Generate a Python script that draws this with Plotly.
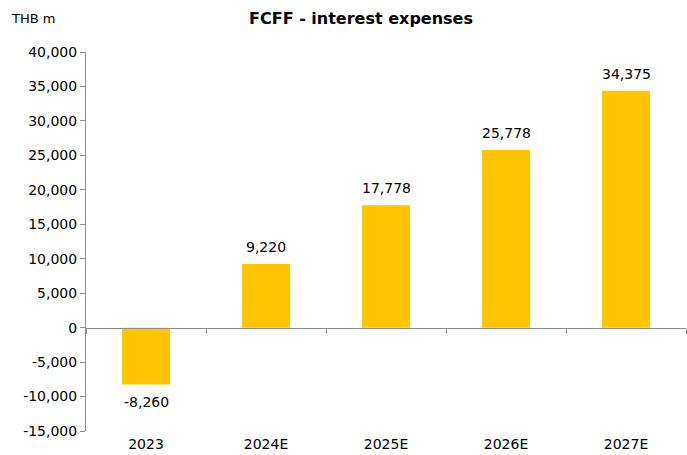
import plotly.graph_objects as go

categories = ["2023", "2024E", "2025E", "2026E", "2027E"]
values = [-8260, 9220, 17778, 25778, 34375]
y_ticks = [-15000, -10000, -5000, 0, 5000, 10000, 15000, 20000, 25000, 30000, 35000, 40000]

FONT = "DejaVu Sans"
BAR = "#FFC600"
AXIS = "#8C8C8C"
Y_MIN, Y_MAX = -15000, 40000

fig = go.Figure()
fig.add_trace(go.Bar(x=categories, y=values, marker=dict(color=BAR, line=dict(width=0)),
                     hoverinfo="skip"))
fig.add_trace(go.Bar(x=categories, y=[None] * len(categories), xaxis="x2", showlegend=False,
                     hoverinfo="skip"))

for i, v in enumerate(values):
    fig.add_annotation(x=i, y=v, text=f"{v:,}", showarrow=False,
                       yanchor="bottom" if v >= 0 else "top",
                       yshift=7 if v >= 0 else -7,
                       font=dict(family=FONT, size=14, color="#000"))

fig.add_annotation(xref="paper", yref="paper", x=-0.128, y=1.0, yshift=34,
                   text="THB m", showarrow=False, xanchor="left", yanchor="middle",
                   font=dict(family=FONT, size=13, color="#000"))

zero_pos = (0 - Y_MIN) / (Y_MAX - Y_MIN)
x_range = [-0.5, len(categories) - 0.5]

fig.update_layout(
    width=687, height=455,
    margin=dict(l=86, r=1, t=52, b=24),
    paper_bgcolor="white", plot_bgcolor="white",
    showlegend=False, bargap=0.6, barmode="overlay",
    title=dict(text="<b>FCFF - interest expenses</b>", x=361 / 687, xanchor="center",
               y=1 - 18 / 455, yanchor="middle",
               font=dict(family=FONT, size=16, color="#000")),
    font=dict(family=FONT, size=14, color="#000"),
    xaxis=dict(type="category", categoryorder="array", categoryarray=categories,
               range=x_range, showline=False, ticks="", showgrid=False, zeroline=False,
               ticklabelstandoff=3,
               tickfont=dict(family=FONT, size=14, color="#000")),
    xaxis2=dict(type="category", categoryorder="array", categoryarray=categories,
                range=x_range, overlaying="x", anchor="free", position=zero_pos, side="bottom",
                showline=True, linecolor=AXIS, linewidth=1,
                ticks="outside", tickson="boundaries", ticklen=5, tickcolor=AXIS,
                showticklabels=False, showgrid=False, zeroline=False),
    yaxis=dict(range=[Y_MIN, Y_MAX], tickvals=y_ticks, ticktext=[f"{t:,}" for t in y_ticks],
               showline=True, linecolor=AXIS, linewidth=1, ticks="outside", ticklen=5,
               tickcolor=AXIS, showgrid=False, zeroline=False,
               tickfont=dict(family=FONT, size=14, color="#000")),
)

fig.write_html("out.html", config={"displayModeBar": False, "staticPlot": True},
               post_script="document.body.style.margin='0';")
